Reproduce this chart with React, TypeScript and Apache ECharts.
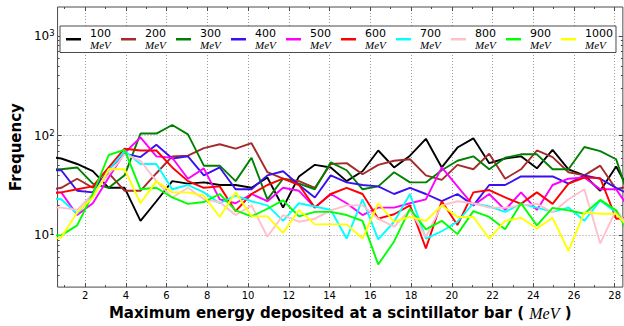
import { useEffect, useRef } from 'react';
import * as echarts from 'echarts';

// Beam energies (legend entries) and their line colours
const energies = ['100', '200', '300', '400', '500', '600', '700', '800', '900', '1000'];
const lineColors = ['#000000', '#a52a2a', '#008000', '#3a10f0', '#ff00ff', '#ff0000', '#00ffff', '#ffc0cb', '#00ff00', '#ffff00'];

// Histogram bin centres, MeV
const binCenters = [
  0.05, 0.83, 1.61, 2.38, 3.16, 3.94, 4.72, 5.5, 6.28, 7.05,
  7.83, 8.61, 9.39, 10.17, 10.95, 11.72, 12.5, 13.28, 14.06, 14.84,
  15.62, 16.39, 17.17, 17.95, 18.73, 19.51, 20.28, 21.06, 21.84, 22.62,
  23.4, 24.18, 24.95, 25.73, 26.51, 27.29, 28.07, 28.85,
];

// Counts per bin for each beam energy
const freq100 = [62, 59, 52, 44, 30, 30, 14, 22, 35, 33, 34, 32, 32, 30, 38, 19, 39, 51, 48, 35, 44, 71, 48, 63, 93, 48, 76, 94, 53, 59, 62, 47, 72, 46, 40, 28, 49, 25];
const freq200 = [28, 30, 37, 30, 42, 28, 28, 42, 62, 63, 75, 82, 74, 84, 43, 37, 35, 30, 52, 53, 41, 51, 56, 58, 40, 36, 51, 46, 66, 37, 46, 71, 61, 43, 40, 50, 29, 32];
const freq300 = [46, 46, 48, 33, 30, 40, 105, 105, 128, 103, 50, 50, 35, 60, 23, 37, 33, 29, 54, 45, 29, 31, 43, 34, 34, 45, 56, 62, 46, 60, 65, 65, 46, 46, 77, 70, 58, 19];
const freq400 = [45, 45, 28, 27, 46, 66, 61, 81, 59, 62, 40, 48, 29, 29, 40, 44, 32, 24, 40, 34, 32, 31, 26, 30, 26, 22, 26, 20, 32, 32, 39, 39, 39, 33, 40, 37, 30, 25];
const freq500 = [27, 27, 16, 21, 38, 67, 96, 62, 60, 37, 47, 23, 21, 26, 22, 30, 28, 19, 26, 21, 16, 19, 19, 21, 23, 48, 31, 20, 26, 18, 27, 18, 32, 37, 38, 29, 29, 17];
const freq600 = [26, 27, 29, 31, 48, 74, 71, 71, 48, 35, 30, 31, 17.5, 26, 32, 37, 32, 19, 26, 30, 26, 14.7, 16.3, 20, 7.4, 22, 12.7, 27, 28.5, 24, 20.7, 27, 20.7, 33, 38, 37.5, 14.7, 15];
const freq700 = [24, 23, 16.5, 25, 45, 70, 52, 52, 29, 32, 27, 21, 25, 22, 20, 14, 21, 19.5, 18, 9.3, 23, 9.1, 13.7, 26, 9.3, 11, 13.7, 21, 19.5, 17.2, 20.7, 19, 17.2, 19, 14, 22.4, 17, 12];
const freq800 = [19, 19, 18, 26, 41, 65, 56, 35, 24, 30, 23, 21.5, 16, 20, 9.7, 16, 13.7, 14.7, 17.8, 20, 20, 14.7, 12.2, 18, 9.7, 20, 22, 21, 19, 18.9, 20, 20.7, 17, 23, 29, 8.3, 18, 11];
const freq900 = [10, 10, 12.6, 26, 64, 72, 29, 30, 24, 20.7, 21.6, 26, 17.8, 15.5, 18.5, 22.4, 15.5, 17.2, 17.2, 16, 14, 5.1, 8.7, 18.5, 11.5, 14, 10.3, 17.5, 15.3, 11.5, 21, 12.6, 18.9, 17.8, 16.5, 22.7, 17.8, 9];
const freq1000 = [9, 9.5, 17, 24, 46, 46, 21, 35, 27, 27, 25, 15.3, 27, 15.5, 15.5, 10.6, 18, 12.9, 12.9, 12.9, 9.3, 21, 13.7, 15.3, 14, 20, 15.3, 15.3, 9.3, 14, 15, 11.7, 15, 7, 17, 16.5, 16.5, 11];

const allFreq = [freq100, freq200, freq300, freq400, freq500, freq600, freq700, freq800, freq900, freq1000];

// Axis ranges and tick positions
const X_MIN = 0.65;
const X_MAX = 28.4;
const Y_MIN = 3.03;
const Y_MAX = 1950;
const xMajorTicks = [2, 4, 6, 8, 10, 12, 14, 16, 18, 20, 22, 24, 26, 28];
const xMinorTicks = [1, 3, 5, 7, 9, 11, 13, 15, 17, 19, 21, 23, 25, 27];
const yMajorTicks = [10, 100, 1000];
const yMinorTicks = [4, 5, 6, 7, 8, 9, 20, 30, 40, 50, 60, 70, 80, 90, 200, 300, 400, 500, 600, 700, 800, 900];

const FRAME = '#4a4a4a';
const SANS = 'DejaVu Sans';

function tickAxis(kind: 'x' | 'y', position: string, values: number[], length: number) {
  const base: any = {
    type: kind === 'x' ? 'value' : 'log',
    position,
    min: kind === 'x' ? X_MIN : Y_MIN,
    max: kind === 'x' ? X_MAX : Y_MAX,
    axisLine: { show: false, onZero: false },
    axisTick: { show: true, inside: true, length, customValues: values, lineStyle: { color: FRAME, width: 1 } },
    axisLabel: { show: false },
    splitLine: { show: false },
  };
  if (kind === 'y') base.logBase = 10;
  return base;
}

function buildOption() {
  const series = energies.map((e, k) => ({
    name: e,
    type: 'line',
    xAxisIndex: 0,
    yAxisIndex: 0,
    symbol: 'none',
    clip: true,
    lineStyle: { color: lineColors[k], width: 1.9 },
    itemStyle: { color: lineColors[k] },
    data: binCenters.map((x, i) => [x, allFreq[k][i]]),
  }));

  const gridLine = { show: true, lineStyle: { color: '#9a9a9a', width: 1, type: [1, 2] } };

  return {
    animation: false,
    backgroundColor: '#ffffff',
    grid: {
      left: 52, right: 1, top: 7, bottom: 35,
      show: true, borderColor: FRAME, borderWidth: 1, backgroundColor: '#ffffff',
    },
    legend: {
      data: energies,
      left: 60,
      top: 26,
      orient: 'horizontal',
      icon: 'rect',
      itemWidth: 15,
      itemHeight: 2.5,
      itemGap: 5,
      selectedMode: false,
      padding: [2, 3, 2, 6],
      borderColor: FRAME,
      borderWidth: 1,
      backgroundColor: '#ffffff',
      formatter: (name: string) => `{v|${name}}\n{u|MeV}`,
      textStyle: {
        rich: {
          v: { fontFamily: SANS, fontSize: 11, color: '#000', width: 26, padding: [0, 0, 0, 4], lineHeight: 11.5 },
          u: { fontFamily: 'Liberation Serif', fontStyle: 'italic', fontSize: 11, color: '#000', width: 26, padding: [0, 0, 0, 4], lineHeight: 11.5 },
        },
      },
    },
    xAxis: [
      {
        ...tickAxis('x', 'bottom', xMajorTicks, 4),
        axisLabel: { show: true, customValues: xMajorTicks, margin: 3, color: '#000', fontFamily: SANS, fontSize: 10 },
        splitLine: gridLine,
        name: 'Maximum energy deposited at a scintillator bar ( {i|MeV} )',
        nameLocation: 'middle',
        nameGap: 14,
        nameTextStyle: {
          fontFamily: SANS, fontWeight: 'bold', fontSize: 15, color: '#000',
          rich: { i: { fontFamily: 'Liberation Serif', fontStyle: 'italic', fontWeight: 'normal', fontSize: 16, color: '#000' } },
        },
      },
      tickAxis('x', 'bottom', xMinorTicks, 2),
      tickAxis('x', 'top', xMajorTicks, 4),
      tickAxis('x', 'top', xMinorTicks, 2),
    ],
    yAxis: [
      {
        ...tickAxis('y', 'left', yMajorTicks, 4),
        axisLabel: {
          show: true, customValues: yMajorTicks, margin: 3,
          formatter: (v: number) => `{b|10}{s|${Math.round(Math.log10(v))}}`,
          rich: {
            b: { fontFamily: SANS, fontSize: 12, color: '#000' },
            s: { fontFamily: SANS, fontSize: 8.5, color: '#000', verticalAlign: 'top', padding: [0, 0, 6, 0] },
          },
        },
        splitLine: gridLine,
        name: 'Frequency',
        nameLocation: 'middle',
        nameGap: 30,
        nameRotate: 90,
        nameTextStyle: { fontFamily: SANS, fontWeight: 'bold', fontSize: 15, color: '#000' },
      },
      tickAxis('y', 'left', yMinorTicks, 2),
      tickAxis('y', 'right', yMajorTicks, 4),
      tickAxis('y', 'right', yMinorTicks, 2),
    ],
    series,
  };
}

export default function App() {
  const ref = useRef<HTMLDivElement>(null);
  useEffect(() => {
    document.body.style.margin = '0';
    const chart = echarts.init(ref.current!, null, { renderer: 'svg' });
    chart.setOption(buildOption() as any);
    return () => chart.dispose();
  }, []);
  return <div ref={ref} style={{ width: 624, height: 326 }} />;
}
